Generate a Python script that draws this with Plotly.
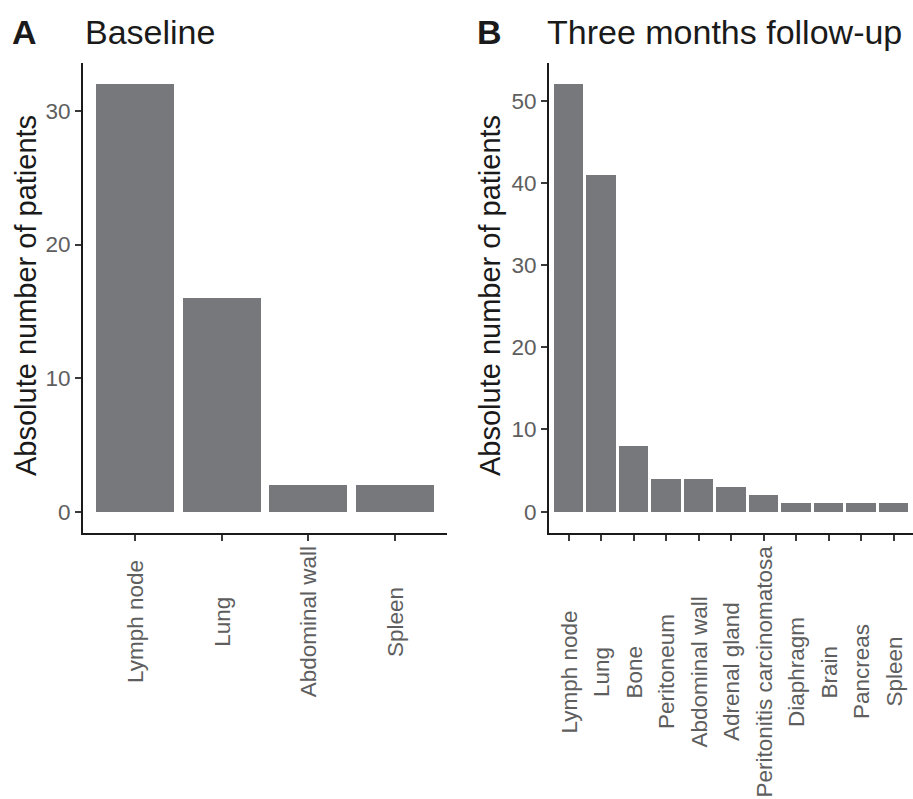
import plotly.graph_objects as go

# Data
baseline_sites = ["Lymph node", "Lung", "Abdominal wall", "Spleen"]
baseline_counts = [32, 16, 2, 2]

followup_sites = ["Lymph node", "Lung", "Bone", "Peritoneum", "Abdominal wall",
                  "Adrenal gland", "Peritonitis carcinomatosa", "Diaphragm",
                  "Brain", "Pancreas", "Spleen"]
followup_counts = [52, 41, 8, 4, 4, 3, 2, 1, 1, 1, 1]

left_ticks = [0, 10, 20, 30]
right_ticks = [0, 10, 20, 30, 40, 50]

W, H = 913, 799
BAR = "#77787c"
FONT = "Liberation Sans, Arial, Helvetica, sans-serif"
TICKFS = 22.5
TITLEFS = 29
HEADFS = 34
TICKCOL = "#5e5e5e"

fig = go.Figure()
fig.add_trace(go.Bar(x=baseline_sites, y=baseline_counts, width=0.9,
                     marker=dict(color=BAR, line=dict(width=0)),
                     xaxis="x", yaxis="y", showlegend=False))
fig.add_trace(go.Bar(x=followup_sites, y=followup_counts, width=0.9,
                     marker=dict(color=BAR, line=dict(width=0)),
                     xaxis="x2", yaxis="y2", showlegend=False))

ydom = [(H - 533) / H, (H - 63) / H]
ax_common = dict(showline=True, linecolor="#1a1a1a", linewidth=2,
                 ticks="outside", ticklen=6, tickwidth=1.8, tickcolor="#3a3a3a",
                 showgrid=False, zeroline=False,
                 tickfont=dict(family=FONT, size=TICKFS, color=TICKCOL))

def cat_range(n):
    return [-0.6, n - 1 + 0.6]

def y_range(vmax):
    return [-0.05 * vmax, vmax * 1.05]

fig.update_layout(
    width=W, height=H,
    margin=dict(l=0, r=0, t=0, b=0),
    plot_bgcolor="white", paper_bgcolor="white",
    bargap=0,
    xaxis=dict(domain=[83 / W, 447 / W], anchor="y", range=cat_range(len(baseline_sites)),
               showticklabels=False, **ax_common),
    yaxis=dict(domain=ydom, anchor="x", range=y_range(max(baseline_counts)),
               tickvals=left_ticks, **ax_common),
    xaxis2=dict(domain=[549 / W, 1.0], anchor="y2", range=cat_range(len(followup_sites)),
                showticklabels=False, **ax_common),
    yaxis2=dict(domain=ydom, anchor="x2", range=y_range(max(followup_counts)),
                tickvals=right_ticks, **ax_common),
)

ann = []
# x tick labels centered (ggplot style, angle 90)
for s in baseline_sites:
    ann.append(dict(x=s, xref="x", y=(H - 622) / H, yref="paper", text=s,
                    textangle=-90, showarrow=False, xanchor="center", yanchor="middle",
                    font=dict(family=FONT, size=TICKFS, color=TICKCOL)))
for s in followup_sites:
    ann.append(dict(x=s, xref="x2", y=(H - 672) / H, yref="paper", text=s,
                    textangle=-90, showarrow=False, xanchor="center", yanchor="middle",
                    font=dict(family=FONT, size=TICKFS, color=TICKCOL)))
# y axis titles
for xpos in [26, 490]:
    ann.append(dict(x=xpos / W, xref="paper", y=(H - 296) / H, yref="paper",
                    text="Absolute number of patients", textangle=-90, showarrow=False,
                    xanchor="center", yanchor="middle",
                    font=dict(family=FONT, size=TITLEFS, color="#1a1a1a")))
# panel tags and titles
for tag, xt, title, xtitle in [("A", 10, "Baseline", 83), ("B", 475, "Three months follow-up", 545)]:
    ann.append(dict(x=xt / W, xref="paper", y=(H - 32) / H, yref="paper",
                    text="<b>" + tag + "</b>", showarrow=False, xanchor="left", yanchor="middle",
                    font=dict(family=FONT, size=HEADFS, color="#1a1a1a")))
    ann.append(dict(x=xtitle / W, xref="paper", y=(H - 32) / H, yref="paper",
                    text=title, showarrow=False, xanchor="left", yanchor="middle",
                    font=dict(family=FONT, size=HEADFS, color="#1a1a1a")))
fig.update_layout(annotations=ann)

fig.write_html("out.html")
